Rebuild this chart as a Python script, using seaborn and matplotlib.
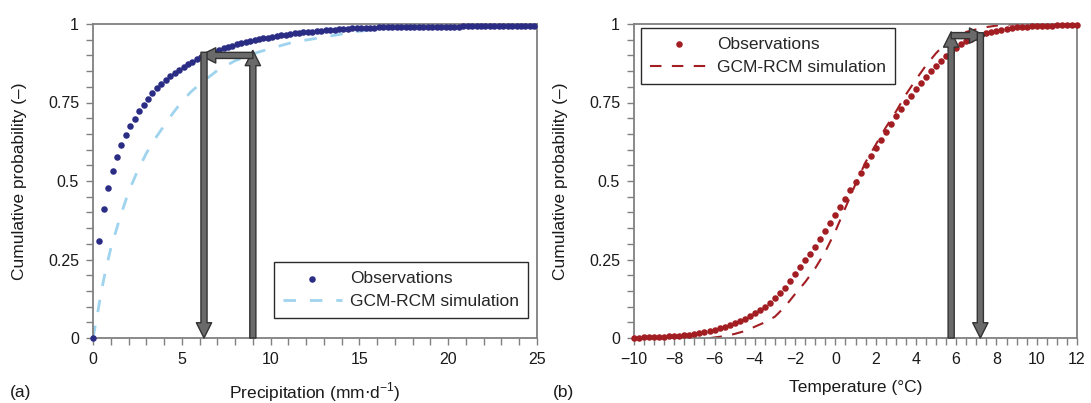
import matplotlib
matplotlib.use("Agg")
import matplotlib.pyplot as plt
import seaborn as sns
from matplotlib.ticker import MultipleLocator

# ---------------- data ----------------
precip_obs_x = [0.00, 0.35, 0.60, 0.85, 1.10, 1.35, 1.60, 1.85, 2.10, 2.35, 2.60, 2.85, 3.10, 3.35,
                3.60, 3.85, 4.10, 4.35, 4.60, 4.85, 5.10, 5.35, 5.60, 5.85, 6.10, 6.35, 6.60, 6.85,
                7.10, 7.35, 7.60, 7.85, 8.10, 8.35, 8.60, 8.85, 9.10, 9.35, 9.60, 9.85, 10.10, 10.35,
                10.60, 10.85, 11.10, 11.35, 11.60, 11.85, 12.10, 12.35, 12.60, 12.85, 13.10, 13.35,
                13.60, 13.85, 14.10, 14.35, 14.60, 14.85, 15.10, 15.35, 15.60, 15.85, 16.10, 16.35,
                16.60, 16.85, 17.10, 17.35, 17.60, 17.85, 18.10, 18.35, 18.60, 18.85, 19.10, 19.35,
                19.60, 19.85, 20.10, 20.35, 20.60, 20.85, 21.10, 21.35, 21.60, 21.85, 22.10, 22.35,
                22.60, 22.85, 23.10, 23.35, 23.60, 23.85, 24.10, 24.35, 24.60, 24.85]
precip_obs_p = [0.000, 0.310, 0.410, 0.478, 0.532, 0.578, 0.615, 0.648, 0.676, 0.699, 0.722, 0.743, 0.762, 0.779,
                0.795, 0.809, 0.822, 0.834, 0.845, 0.855, 0.864, 0.872, 0.880, 0.888, 0.896, 0.902, 0.907, 0.912,
                0.917, 0.922, 0.926, 0.931, 0.935, 0.939, 0.942, 0.946, 0.949, 0.952, 0.955, 0.957, 0.960, 0.962,
                0.964, 0.966, 0.968, 0.970, 0.972, 0.973, 0.975, 0.976, 0.978, 0.979, 0.980, 0.981,
                0.982, 0.983, 0.984, 0.985, 0.986, 0.986, 0.987, 0.987, 0.988, 0.988, 0.989, 0.989,
                0.989, 0.990, 0.990, 0.990, 0.990, 0.991, 0.991, 0.991, 0.991, 0.991, 0.992, 0.992,
                0.992, 0.992, 0.992, 0.992, 0.992, 0.993, 0.993, 0.993, 0.993, 0.993, 0.993, 0.993,
                0.993, 0.993, 0.993, 0.994, 0.994, 0.994, 0.994, 0.994, 0.994, 0.994]

precip_sim_x = [0, 0.25, 0.5, 0.75, 1, 1.5, 2, 2.5, 3, 3.5, 4, 4.5, 5, 5.5, 6, 6.5, 7, 8, 9, 10,
                11, 12, 13, 14, 15, 16, 17, 18, 19, 20, 22, 25]
precip_sim_p = [0.0, 0.076, 0.158, 0.226, 0.285, 0.380, 0.465, 0.531, 0.588, 0.635, 0.676, 0.716, 0.753,
                0.783, 0.808, 0.830, 0.852, 0.883, 0.905, 0.922, 0.938, 0.949, 0.958, 0.968, 0.977,
                0.983, 0.987, 0.990, 0.993, 0.995, 0.997, 0.997]

temp_obs_x = [-10.00, -9.75, -9.50, -9.25, -9.00, -8.75, -8.50, -8.25, -8.00, -7.75, -7.50, -7.25,
              -7.00, -6.75, -6.50, -6.25, -6.00, -5.75, -5.50, -5.25, -5.00, -4.75, -4.50, -4.25,
              -4.00, -3.75, -3.50, -3.25, -3.00, -2.75, -2.50, -2.25, -2.00, -1.75, -1.50, -1.25,
              -1.00, -0.75, -0.50, -0.25, 0.00, 0.25, 0.50, 0.75, 1.00, 1.25, 1.50, 1.75, 2.00,
              2.25, 2.50, 2.75, 3.00, 3.25, 3.50, 3.75, 4.00, 4.25, 4.50, 4.75, 5.00, 5.25, 5.50,
              5.75, 6.00, 6.25, 6.50, 6.75, 7.00, 7.25, 7.50, 7.75, 8.00, 8.25, 8.50, 8.75, 9.00,
              9.25, 9.50, 9.75, 10.00, 10.25, 10.50, 10.75, 11.00, 11.25, 11.50, 11.75, 12.00]
temp_obs_p = [0.001, 0.001, 0.002, 0.002, 0.003, 0.003, 0.004, 0.005, 0.006, 0.007, 0.009, 0.011,
              0.013, 0.015, 0.018, 0.022, 0.026, 0.031, 0.036, 0.042, 0.048, 0.055, 0.062, 0.070,
              0.079, 0.089, 0.100, 0.112, 0.126, 0.142, 0.160, 0.180, 0.203, 0.225, 0.247, 0.268,
              0.289, 0.314, 0.341, 0.367, 0.393, 0.418, 0.443, 0.470, 0.496, 0.524, 0.551, 0.579, 0.606,
              0.632, 0.657, 0.682, 0.706, 0.729, 0.751, 0.772, 0.792, 0.812, 0.831, 0.849, 0.866, 0.882, 0.897,
              0.911, 0.924, 0.935, 0.945, 0.953, 0.960, 0.966, 0.971, 0.975, 0.979, 0.982, 0.985, 0.987, 0.989,
              0.990, 0.992, 0.993, 0.994, 0.994, 0.995, 0.995, 0.996, 0.996, 0.996, 0.997, 0.997]

temp_sim_x = [-6.2, -5.5, -5.0, -4.5, -4.0, -3.5, -3.0, -2.5, -2.0, -1.5, -1.0, -0.5, 0.0, 0.5, 1.0,
              1.5, 2.0, 2.5, 3.0, 3.5, 4.0, 4.5, 5.0, 5.5, 6.0, 6.5, 7.0, 7.5, 8.0, 8.5, 9.0, 10.0, 12.0]
temp_sim_p = [0.0, 0.006, 0.013, 0.022, 0.036, 0.050, 0.068, 0.100, 0.140, 0.178, 0.222, 0.275, 0.340,
              0.415, 0.490, 0.560, 0.615, 0.670, 0.720, 0.775, 0.823, 0.868, 0.907, 0.940, 0.962, 0.975,
              0.983, 0.990, 0.995, 0.998, 0.999, 1.0, 1.0]

# quantile-mapping arrows: (x_start, y_start, x_end, y_end)
arrows_a = [(9.0, 0.0, 9.0, 0.916), (9.0, 0.900, 6.05, 0.900), (6.25, 0.910, 6.25, 0.0)]
arrows_b = [(5.75, 0.0, 5.75, 0.975), (5.75, 0.963, 7.42, 0.963), (7.2, 0.972, 7.2, 0.0)]

yticks = [0, 0.25, 0.5, 0.75, 1]
ytick_labels = ["0", "0.25", "0.5", "0.75", "1"]
xticks_a = [0, 5, 10, 15, 20, 25]
xticks_b = [-10, -8, -6, -4, -2, 0, 2, 4, 6, 8, 10, 12]

# ---------------- style ----------------
sns.set_theme(style="white")
plt.rcParams["font.family"] = ["Liberation Sans", "DejaVu Sans"]
plt.rcParams["axes.unicode_minus"] = True

W, H = 1091, 403
fig = plt.figure(figsize=(W / 100, H / 100), dpi=100)
axA = fig.add_axes([93 / W, 65 / H, 444 / W, 314 / H])
axB = fig.add_axes([634 / W, 65 / H, 443 / W, 314 / H])

navy = "#2b2d84"
lightblue = "#9fd3ee"
darkred = "#a21e23"
spine_col = "#808080"
TICK_FS = 11.5
LAB_FS = 12.5


def draw_arrows(ax, arrows):
    for x0, y0, x1, y1 in arrows:
        ax.annotate("", xy=(x1, y1), xytext=(x0, y0),
                    arrowprops=dict(arrowstyle="simple,head_width=11,head_length=11,tail_width=4.4",
                                    mutation_scale=1, shrinkA=0, shrinkB=0,
                                    facecolor="#6a6a6a", edgecolor="#333333", linewidth=1.0),
                    zorder=5, annotation_clip=False)


def style_axes(ax, xlim, xticks, minor):
    ax.set_xlim(*xlim)
    ax.set_ylim(0, 1)
    ax.set_yticks(yticks)
    ax.set_yticklabels(ytick_labels)
    ax.set_xticks(xticks)
    ax.xaxis.set_minor_locator(MultipleLocator(minor))
    ax.yaxis.set_minor_locator(MultipleLocator(0.05))
    ax.tick_params(which="both", direction="out", length=5, width=1, color=spine_col,
                   labelsize=TICK_FS, pad=5, labelcolor="#1a1a1a",
                   bottom=True, left=True, top=False, right=False)
    for s in ax.spines.values():
        s.set_color(spine_col)
        s.set_linewidth(1.3)
        s.set_visible(True)
    ax.set_ylabel("Cumulative probability (–)", fontsize=LAB_FS, color="#1a1a1a")
    ax.grid(False)


# ---------------- panel (a) ----------------
sns.scatterplot(x=precip_obs_x, y=precip_obs_p, ax=axA, color=navy, s=22, linewidth=0,
                label="Observations", clip_on=False, zorder=3)
sns.lineplot(x=precip_sim_x, y=precip_sim_p, ax=axA, color=lightblue, linewidth=2.0,
             linestyle=(0, (4.5, 5.0)), label="GCM-RCM simulation", zorder=2)
draw_arrows(axA, arrows_a)
style_axes(axA, (0, 25), xticks_a, 1)
axA.set_xlabel("Precipitation (mm$\\cdot$d$^{\\mathregular{-1}}$)", fontsize=LAB_FS, color="#1a1a1a")
legA = axA.legend(loc="lower right", bbox_to_anchor=(0.98, 0.064), borderaxespad=0,
                  frameon=True, fancybox=False, framealpha=1, edgecolor="#2a2a2a",
                  fontsize=LAB_FS, handlelength=3.4, handletextpad=0.5, borderpad=0.5,
                  labelspacing=0.45)
legA.get_frame().set_linewidth(1.0)
legA.set_zorder(10)

# ---------------- panel (b) ----------------
sns.scatterplot(x=temp_obs_x, y=temp_obs_p, ax=axB, color=darkred, s=22, linewidth=0,
                label="Observations", clip_on=False, zorder=3)
sns.lineplot(x=temp_sim_x, y=temp_sim_p, ax=axB, color=darkred, linewidth=1.5,
             linestyle=(0, (5.5, 5)), label="GCM-RCM simulation", zorder=2)
draw_arrows(axB, arrows_b)
style_axes(axB, (-10, 12), xticks_b, 0.5)
axB.set_xlabel("Temperature (°C)", fontsize=LAB_FS, color="#1a1a1a")
legB = axB.legend(loc="upper left", bbox_to_anchor=(0.016, 0.987), borderaxespad=0,
                  frameon=True, fancybox=False, framealpha=1, edgecolor="#2a2a2a",
                  fontsize=LAB_FS, handlelength=3.4, handletextpad=0.5, borderpad=0.5,
                  labelspacing=0.45)
legB.get_frame().set_linewidth(1.0)
legB.set_zorder(10)

for ax in (axA, axB):
    ax.yaxis.set_label_coords(-0.148, 0.5)
    ax.xaxis.set_label_coords(0.5, -0.135)

fig.text(10 / W, 1 - 392 / H, "(a)", fontsize=LAB_FS, ha="left", va="center", color="#1a1a1a")
fig.text(553 / W, 1 - 392 / H, "(b)", fontsize=LAB_FS, ha="left", va="center", color="#1a1a1a")

fig.savefig("out.png", dpi=100, facecolor="white")
